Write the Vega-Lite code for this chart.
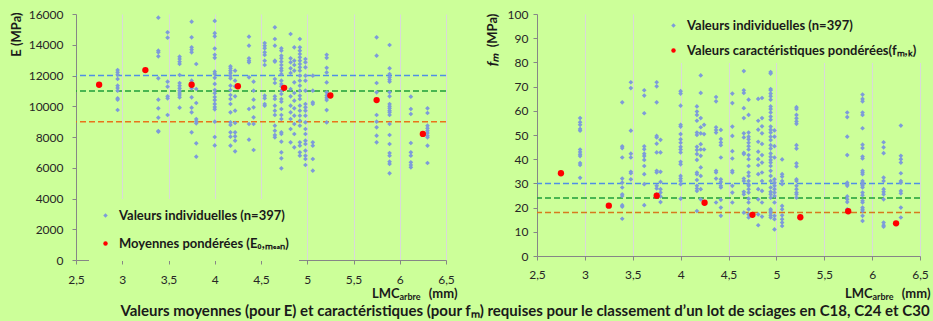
{
"$schema": "https://vega.github.io/schema/vega-lite/v6.json",
"background": "#CCFF99",
"padding": {"left": 10, "top": 8, "right": 2, "bottom": 2},
"config": {
 "view": {"stroke": null},
 "font": "Lato",
 "axis": {"labelFont": "Lato", "labelFontSize": 12, "labelColor": "#262626", "labelOverlap": false, "titleFont": "Lato", "titleFontSize": 13, "titleFontWeight": "bold", "titleColor": "#1a1a1a", "gridColor": "#D9D9D9", "gridWidth": 1, "domainColor": "#868686", "tickColor": "#868686", "tickSize": 4},
 "legend": {"labelFont": "Lato", "labelFontSize": 13, "labelFontWeight": "bold", "labelColor": "#1a1a1a", "labelLimit": 0, "symbolSize": 20, "symbolStrokeWidth": 0, "labelOffset": 7}
},
"resolve": {"scale": {"color": "independent", "shape": "independent", "stroke": "independent"}, "legend": {"color": "independent", "shape": "independent"}},
"datasets": {
 "Er": [{"c": "C30", "E": 12000}, {"c": "C24", "E": 11000}, {"c": "C18", "E": 9000}],
 "Em": [{"x": 2.75, "E": 11400}, {"x": 3.25, "E": 12350}, {"x": 3.75, "E": 11400}, {"x": 4.25, "E": 11300}, {"x": 4.75, "E": 11200}, {"x": 5.25, "E": 10700}, {"x": 5.75, "E": 10400}, {"x": 6.25, "E": 8200}],
 "Ei": [
{"x":2.95,"E":12358},{"x":2.95,"E":12205},{"x":2.95,"E":12053},{"x":2.95,"E":11772},{"x":2.95,"E":11337},{"x":2.95,"E":11187},{"x":2.95,"E":11012},{"x":2.95,"E":10517},{"x":2.95,"E":10426},{"x":2.95,"E":9756},
{"x":3.39,"E":15760},{"x":3.39,"E":13614},{"x":3.39,"E":13507},{"x":3.39,"E":13247},{"x":3.39,"E":11818},{"x":3.39,"E":10426},{"x":3.39,"E":9865},{"x":3.39,"E":9258},{"x":3.39,"E":8390},{"x":3.39,"E":8346},
{"x":3.49,"E":14809},{"x":3.49,"E":14458},{"x":3.49,"E":11597},{"x":3.49,"E":11272},{"x":3.49,"E":10647},{"x":3.49,"E":10517},{"x":3.49,"E":9431},
{"x":3.62,"E":13225},{"x":3.62,"E":13073},{"x":3.62,"E":12899},{"x":3.62,"E":12748},{"x":3.62,"E":12032},{"x":3.62,"E":11512},{"x":3.62,"E":11337},{"x":3.62,"E":11167},{"x":3.62,"E":11012},{"x":3.62,"E":10862},{"x":3.62,"E":10732},{"x":3.62,"E":10583},{"x":3.62,"E":9906},
{"x":3.75,"E":15500},{"x":3.75,"E":14484},{"x":3.75,"E":13834},{"x":3.75,"E":13678},{"x":3.75,"E":13507},{"x":3.75,"E":11662},{"x":3.75,"E":11512},{"x":3.75,"E":11167},{"x":3.75,"E":10583},{"x":3.75,"E":9906},{"x":3.75,"E":9606},{"x":3.75,"E":8306},
{"x":3.8,"E":12748},{"x":3.8,"E":11122},{"x":3.8,"E":10211},{"x":3.8,"E":9171},{"x":3.8,"E":9021},{"x":3.8,"E":8890},{"x":3.8,"E":7590},{"x":3.8,"E":6720},
{"x":4.0,"E":15550},{"x":4.0,"E":14750},{"x":4.0,"E":14550},{"x":4.0,"E":13750},{"x":4.0,"E":13350},{"x":4.0,"E":13150},{"x":4.0,"E":12250},{"x":4.0,"E":12100},{"x":4.0,"E":11850},{"x":4.0,"E":11450},{"x":4.0,"E":11050},{"x":4.0,"E":10850},{"x":4.0,"E":10600},{"x":4.0,"E":10400},{"x":4.0,"E":10150},{"x":4.0,"E":9950},{"x":4.0,"E":9800},{"x":4.0,"E":9000},{"x":4.0,"E":8000},{"x":4.0,"E":7450},
{"x":4.17,"E":12598},{"x":4.17,"E":12468},{"x":4.17,"E":12312},{"x":4.17,"E":12163},{"x":4.17,"E":11987},{"x":4.17,"E":11818},{"x":4.17,"E":11337},{"x":4.17,"E":11057},{"x":4.17,"E":10732},{"x":4.17,"E":10471},{"x":4.17,"E":10146},{"x":4.17,"E":9606},{"x":4.17,"E":8956},{"x":4.17,"E":8781},{"x":4.17,"E":8306},{"x":4.17,"E":8019},{"x":4.17,"E":7434},
{"x":4.22,"E":12312},{"x":4.22,"E":11662},{"x":4.22,"E":11297},{"x":4.22,"E":10647},{"x":4.22,"E":9711},{"x":4.22,"E":8910},{"x":4.22,"E":8306},{"x":4.22,"E":8046},{"x":4.22,"E":7760},{"x":4.22,"E":7070},
{"x":4.37,"E":14524},{"x":4.37,"E":13938},{"x":4.37,"E":13119},{"x":4.37,"E":12963},{"x":4.37,"E":12858},{"x":4.37,"E":11883},{"x":4.37,"E":9821},{"x":4.37,"E":8846},{"x":4.37,"E":7824},
{"x":4.42,"E":11597},{"x":4.42,"E":11012},{"x":4.42,"E":10426},{"x":4.42,"E":9931},{"x":4.42,"E":9281},{"x":4.42,"E":8846},{"x":4.42,"E":7154},
{"x":4.54,"E":14114},{"x":4.54,"E":13938},{"x":4.54,"E":13769},{"x":4.54,"E":13507},{"x":4.54,"E":13333},{"x":4.54,"E":12963},{"x":4.54,"E":12683},{"x":4.54,"E":10689},{"x":4.54,"E":10517},{"x":4.54,"E":10146},{"x":4.54,"E":10036},
{"x":4.65,"E":15135},{"x":4.65,"E":14374},{"x":4.65,"E":13938},{"x":4.65,"E":12963},{"x":4.65,"E":12898},{"x":4.65,"E":11772},{"x":4.65,"E":11512},{"x":4.65,"E":10647},{"x":4.65,"E":10471},{"x":4.65,"E":10036},{"x":4.65,"E":9711},{"x":4.65,"E":9431},{"x":4.65,"E":8737},{"x":4.65,"E":8412},{"x":4.65,"E":8130},{"x":4.65,"E":7980},
{"x":4.72,"E":13769},{"x":4.72,"E":13613},{"x":4.72,"E":13288},{"x":4.72,"E":13119},{"x":4.72,"E":12898},{"x":4.72,"E":12683},{"x":4.72,"E":12468},{"x":4.72,"E":12312},{"x":4.72,"E":12097},{"x":4.72,"E":11662},{"x":4.72,"E":11447},{"x":4.72,"E":11297},{"x":4.72,"E":11012},{"x":4.72,"E":10797},{"x":4.72,"E":10471},{"x":4.72,"E":10296},{"x":4.72,"E":9821},{"x":4.72,"E":9431},{"x":4.72,"E":9171},{"x":4.72,"E":8306},{"x":4.72,"E":8195},{"x":4.72,"E":7694},{"x":4.72,"E":7004},{"x":4.72,"E":6614},{"x":4.72,"E":5964},
{"x":4.82,"E":14699},{"x":4.82,"E":13119},{"x":4.82,"E":12858},{"x":4.82,"E":12468},{"x":4.82,"E":12163},{"x":4.82,"E":11122},{"x":4.82,"E":10647},{"x":4.82,"E":10036},{"x":4.82,"E":9606},{"x":4.82,"E":9171},{"x":4.82,"E":8520},{"x":4.82,"E":7654},
{"x":4.86,"E":13834},{"x":4.86,"E":12963},{"x":4.86,"E":12683},{"x":4.86,"E":12312},{"x":4.86,"E":11557},{"x":4.86,"E":10862},{"x":4.86,"E":10361},{"x":4.86,"E":9865},{"x":4.86,"E":9386},{"x":4.86,"E":8846},{"x":4.86,"E":8195},{"x":4.86,"E":7330},
{"x":4.92,"E":14374},{"x":4.92,"E":13834},{"x":4.92,"E":13613},{"x":4.92,"E":13398},{"x":4.92,"E":13183},{"x":4.92,"E":12963},{"x":4.92,"E":12748},{"x":4.92,"E":12533},{"x":4.92,"E":12312},{"x":4.92,"E":11987},{"x":4.92,"E":11662},{"x":4.92,"E":11337},{"x":4.92,"E":11012},{"x":4.92,"E":10689},{"x":4.92,"E":10471},{"x":4.92,"E":10036},{"x":4.92,"E":9711},{"x":4.92,"E":9386},{"x":4.92,"E":9061},{"x":4.92,"E":8737},{"x":4.92,"E":7654},{"x":4.92,"E":7434},{"x":4.92,"E":7004},{"x":4.92,"E":6784},
{"x":4.98,"E":13073},{"x":4.98,"E":12858},{"x":4.98,"E":12533},{"x":4.98,"E":11987},{"x":4.98,"E":11662},{"x":4.98,"E":11012},{"x":4.98,"E":10146},{"x":4.98,"E":9931},{"x":4.98,"E":9711},{"x":4.98,"E":9386},{"x":4.98,"E":8956},{"x":4.98,"E":8520},{"x":4.98,"E":8195},{"x":4.98,"E":7760},{"x":4.98,"E":7544},{"x":4.98,"E":7110},{"x":4.98,"E":6784},{"x":4.98,"E":6569},{"x":4.98,"E":6179},
{"x":5.06,"E":11987},{"x":5.06,"E":11012},{"x":5.06,"E":10257},{"x":5.06,"E":10146},{"x":5.06,"E":7654},{"x":5.06,"E":7434},{"x":5.06,"E":6569},{"x":5.06,"E":5808},
{"x":5.21,"E":13350},{"x":5.21,"E":13150},{"x":5.21,"E":12500},{"x":5.21,"E":12200},{"x":5.21,"E":11550},{"x":5.21,"E":10900},{"x":5.21,"E":10700},{"x":5.21,"E":10550},{"x":5.21,"E":10400},{"x":5.21,"E":9750},{"x":5.21,"E":8950},
{"x":5.75,"E":14484},{"x":5.75,"E":13288},{"x":5.75,"E":11512},{"x":5.75,"E":10907},{"x":5.75,"E":9431},{"x":5.75,"E":8996},{"x":5.75,"E":8631},{"x":5.75,"E":8085},{"x":5.75,"E":7654},
{"x":5.89,"E":13983},{"x":5.89,"E":12468},{"x":5.89,"E":12097},{"x":5.89,"E":11883},{"x":5.89,"E":11727},{"x":5.89,"E":11597},{"x":5.89,"E":10907},{"x":5.89,"E":10647},{"x":5.89,"E":10146},{"x":5.89,"E":9996},{"x":5.89,"E":9866},{"x":5.89,"E":9711},{"x":5.89,"E":9606},{"x":5.89,"E":9431},{"x":5.89,"E":8846},{"x":5.89,"E":8130},{"x":5.89,"E":7544},{"x":5.89,"E":6959},{"x":5.89,"E":6784},{"x":5.89,"E":6394},{"x":5.89,"E":6244},{"x":5.89,"E":5639},
{"x":6.12,"E":10621},{"x":6.12,"E":9821},{"x":6.12,"E":9496},{"x":6.12,"E":7610},{"x":6.12,"E":7004},{"x":6.12,"E":6784},{"x":6.12,"E":6354},{"x":6.12,"E":6179},{"x":6.12,"E":6029},
{"x":6.3,"E":9866},{"x":6.3,"E":9561},{"x":6.3,"E":8737},{"x":6.3,"E":8566},{"x":6.3,"E":8412},{"x":6.3,"E":8260},{"x":6.3,"E":8085},{"x":6.3,"E":7980},{"x":6.3,"E":7434},{"x":6.3,"E":6309}
 ],
 "Fr": [{"c": "C30", "f": 30}, {"c": "C24", "f": 24}, {"c": "C18", "f": 18}],
 "Fm": [{"x": 2.75, "f": 34.2}, {"x": 3.25, "f": 20.8}, {"x": 3.75, "f": 24.9}, {"x": 4.25, "f": 22}, {"x": 4.75, "f": 17}, {"x": 5.25, "f": 16}, {"x": 5.75, "f": 18.5}, {"x": 6.25, "f": 13.5}],
 "Fi": [
{"x":2.95,"f":57},{"x":2.95,"f":55.3},{"x":2.95,"f":54.2},{"x":2.95,"f":52.5},{"x":2.95,"f":51.8},{"x":2.95,"f":44},{"x":2.95,"f":43},{"x":2.95,"f":42},{"x":2.95,"f":41.3},{"x":2.95,"f":38.4},{"x":2.95,"f":37.6},{"x":2.95,"f":32.3},
{"x":3.39,"f":63.5},{"x":3.39,"f":45.3},{"x":3.39,"f":44.6},{"x":3.39,"f":40.7},{"x":3.39,"f":32},{"x":3.39,"f":30.3},{"x":3.39,"f":28.3},{"x":3.39,"f":25.5},{"x":3.39,"f":24.8},{"x":3.39,"f":21},{"x":3.39,"f":20.4},{"x":3.39,"f":15.4},
{"x":3.48,"f":71.8},{"x":3.48,"f":69.4},{"x":3.48,"f":51.8},{"x":3.48,"f":42.3},{"x":3.48,"f":40.7},{"x":3.48,"f":34.8},{"x":3.48,"f":34.2},{"x":3.48,"f":31.7},
{"x":3.62,"f":68.5},{"x":3.62,"f":66.3},{"x":3.62,"f":59},{"x":3.62,"f":45.3},{"x":3.62,"f":44.1},{"x":3.62,"f":42.3},{"x":3.62,"f":41.3},{"x":3.62,"f":39.7},{"x":3.62,"f":37.2},{"x":3.62,"f":33.8},{"x":3.62,"f":29.7},{"x":3.62,"f":21},
{"x":3.75,"f":71.8},{"x":3.75,"f":70.1},{"x":3.75,"f":63.5},{"x":3.75,"f":49.6},{"x":3.75,"f":49},{"x":3.75,"f":46.4},{"x":3.75,"f":42.8},{"x":3.75,"f":35.2},{"x":3.75,"f":34.5},{"x":3.75,"f":29},{"x":3.75,"f":27.9},{"x":3.75,"f":25.5},
{"x":3.79,"f":48},{"x":3.79,"f":42.8},{"x":3.79,"f":34.8},{"x":3.79,"f":30.6},{"x":3.79,"f":27.6},{"x":3.79,"f":26.2},{"x":3.79,"f":24.6},{"x":3.79,"f":22.3},
{"x":4.0,"f":68.1},{"x":4.0,"f":67.1},{"x":4.0,"f":62.1},{"x":4.0,"f":54.2},{"x":4.0,"f":53.5},{"x":4.0,"f":50.4},{"x":4.0,"f":48.2},{"x":4.0,"f":46.8},{"x":4.0,"f":45.1},{"x":4.0,"f":44},{"x":4.0,"f":42.8},{"x":4.0,"f":38.9},{"x":4.0,"f":37.9},{"x":4.0,"f":33.1},{"x":4.0,"f":32},{"x":4.0,"f":31},{"x":4.0,"f":29.7},{"x":4.0,"f":23.7},
{"x":4.17,"f":61.8},{"x":4.17,"f":59.7},{"x":4.17,"f":58.3},{"x":4.17,"f":55.9},{"x":4.17,"f":51},{"x":4.17,"f":50},{"x":4.17,"f":45.1},{"x":4.17,"f":43.8},{"x":4.17,"f":42.1},{"x":4.17,"f":39.7},{"x":4.17,"f":34.5},{"x":4.17,"f":33.8},{"x":4.17,"f":31.4},{"x":4.17,"f":29},{"x":4.17,"f":27.9},{"x":4.17,"f":26.9},{"x":4.17,"f":18.6},
{"x":4.21,"f":74.6},{"x":4.21,"f":67.4},{"x":4.21,"f":57},{"x":4.21,"f":53.2},{"x":4.21,"f":50.7},{"x":4.21,"f":46.2},{"x":4.21,"f":44},{"x":4.21,"f":41.4},{"x":4.21,"f":36.6},{"x":4.21,"f":33.1},{"x":4.21,"f":27.6},{"x":4.21,"f":23.4},
{"x":4.245,"f":54.2},{"x":4.245,"f":50.4},{"x":4.245,"f":44},{"x":4.245,"f":22.3},
{"x":4.37,"f":65.7},{"x":4.37,"f":63.9},{"x":4.37,"f":53.2},{"x":4.37,"f":52.1},{"x":4.37,"f":51},{"x":4.37,"f":35.2},{"x":4.37,"f":34.5},{"x":4.37,"f":32},{"x":4.37,"f":22.1},
{"x":4.42,"f":52.1},{"x":4.42,"f":48.3},{"x":4.42,"f":46.9},{"x":4.42,"f":45.8},{"x":4.42,"f":40.7},{"x":4.42,"f":31.7},{"x":4.42,"f":30.6},{"x":4.42,"f":29},{"x":4.42,"f":28.3},{"x":4.42,"f":23.2},{"x":4.42,"f":20},{"x":4.42,"f":16.6},
{"x":4.54,"f":67.1},{"x":4.54,"f":63.2},{"x":4.54,"f":53.5},{"x":4.54,"f":49.6},{"x":4.54,"f":43.3},{"x":4.54,"f":40.3},{"x":4.54,"f":35.2},{"x":4.54,"f":34.5},{"x":4.54,"f":29},{"x":4.54,"f":26.2},{"x":4.54,"f":22.1},
{"x":4.66,"f":76.4},{"x":4.66,"f":68.5},{"x":4.66,"f":67.4},{"x":4.66,"f":61.1},{"x":4.66,"f":57},{"x":4.66,"f":50.7},{"x":4.66,"f":49},{"x":4.66,"f":42.6},{"x":4.66,"f":42.1},{"x":4.66,"f":32},{"x":4.66,"f":31},{"x":4.66,"f":26.5},{"x":4.66,"f":25.5},{"x":4.66,"f":17.9},
{"x":4.71,"f":64.6},{"x":4.71,"f":58.3},{"x":4.71,"f":51},{"x":4.71,"f":49.3},{"x":4.71,"f":48.2},{"x":4.71,"f":46.8},{"x":4.71,"f":45.4},{"x":4.71,"f":44},{"x":4.71,"f":41.7},{"x":4.71,"f":40},{"x":4.71,"f":37.2},{"x":4.71,"f":34.5},{"x":4.71,"f":33.1},{"x":4.71,"f":31},{"x":4.71,"f":29.7},{"x":4.71,"f":29},{"x":4.71,"f":27.6},{"x":4.71,"f":26.2},{"x":4.71,"f":23.7},{"x":4.71,"f":22.1},{"x":4.71,"f":19.3},{"x":4.71,"f":17.2},{"x":4.71,"f":15.9},
{"x":4.81,"f":64.9},{"x":4.81,"f":55.9},{"x":4.81,"f":52.2},{"x":4.81,"f":47.2},{"x":4.81,"f":43.1},{"x":4.81,"f":40},{"x":4.81,"f":37.5},{"x":4.81,"f":33.8},{"x":4.81,"f":27.6},{"x":4.81,"f":23.4},{"x":4.81,"f":17.2},{"x":4.81,"f":12.7},
{"x":4.85,"f":65.3},{"x":4.85,"f":57},{"x":4.85,"f":53.6},{"x":4.85,"f":50.7},{"x":4.85,"f":46.3},{"x":4.85,"f":41.7},{"x":4.85,"f":38.6},{"x":4.85,"f":34.5},{"x":4.85,"f":31},{"x":4.85,"f":26.9},{"x":4.85,"f":22.1},{"x":4.85,"f":16.3},
{"x":4.94,"f":76},{"x":4.94,"f":75.4},{"x":4.94,"f":69},{"x":4.94,"f":68.5},{"x":4.94,"f":67.1},{"x":4.94,"f":66},{"x":4.94,"f":64.6},{"x":4.94,"f":61.8},{"x":4.94,"f":60.7},{"x":4.94,"f":59.3},{"x":4.94,"f":57.6},{"x":4.94,"f":56.3},{"x":4.94,"f":53.5},{"x":4.94,"f":52.2},{"x":4.94,"f":51},{"x":4.94,"f":49.3},{"x":4.94,"f":47.9},{"x":4.94,"f":45.8},{"x":4.94,"f":44.4},{"x":4.94,"f":42.4},{"x":4.94,"f":41},{"x":4.94,"f":39.7},{"x":4.94,"f":38.6},{"x":4.94,"f":37.2},{"x":4.94,"f":35.2},{"x":4.94,"f":33.1},{"x":4.94,"f":31},{"x":4.94,"f":28.3},{"x":4.94,"f":26.5},{"x":4.94,"f":25.5},{"x":4.94,"f":24.1},{"x":4.94,"f":19.3},{"x":4.94,"f":18.6},{"x":4.94,"f":17.9},{"x":4.94,"f":16.8},{"x":4.94,"f":15.9},
{"x":4.98,"f":51.9},{"x":4.98,"f":49.3},{"x":4.98,"f":45.4},{"x":4.98,"f":40.7},{"x":4.98,"f":31.7},{"x":4.98,"f":30.3},{"x":4.98,"f":29},{"x":4.98,"f":27.6},{"x":4.98,"f":26.2},{"x":4.98,"f":24.8},{"x":4.98,"f":22.1},{"x":4.98,"f":16.6},{"x":4.98,"f":15.2},{"x":4.98,"f":11},
{"x":5.06,"f":39.9},{"x":5.06,"f":33.8},{"x":5.06,"f":32.8},{"x":5.06,"f":31},{"x":5.06,"f":29.7},{"x":5.06,"f":20.7},{"x":5.06,"f":19.3},{"x":5.06,"f":16.8},{"x":5.06,"f":15.2},{"x":5.06,"f":13.8},{"x":5.06,"f":12.4},
{"x":5.21,"f":61.5},{"x":5.21,"f":60.7},{"x":5.21,"f":58.3},{"x":5.21,"f":56.9},{"x":5.21,"f":55.6},{"x":5.21,"f":54.6},{"x":5.21,"f":45.8},{"x":5.21,"f":44.4},{"x":5.21,"f":38.3},{"x":5.21,"f":37},{"x":5.21,"f":31.7},{"x":5.21,"f":31},{"x":5.21,"f":29},{"x":5.21,"f":27.6},{"x":5.21,"f":26.2},{"x":5.21,"f":25.5},{"x":5.21,"f":24.1},
{"x":5.74,"f":59.3},{"x":5.74,"f":57.4},{"x":5.74,"f":49.3},{"x":5.74,"f":41.7},{"x":5.74,"f":30.3},{"x":5.74,"f":29.7},{"x":5.74,"f":29},{"x":5.74,"f":24.6},{"x":5.74,"f":23.4},{"x":5.74,"f":22.3},{"x":5.74,"f":19.3},
{"x":5.9,"f":66.7},{"x":5.9,"f":64.9},{"x":5.9,"f":63.9},{"x":5.9,"f":59.3},{"x":5.9,"f":58.3},{"x":5.9,"f":52.8},{"x":5.9,"f":46},{"x":5.9,"f":44.6},{"x":5.9,"f":41.1},{"x":5.9,"f":40.3},{"x":5.9,"f":35.2},{"x":5.9,"f":34.5},{"x":5.9,"f":33.8},{"x":5.9,"f":31},{"x":5.9,"f":30.3},{"x":5.9,"f":29.7},{"x":5.9,"f":29},{"x":5.9,"f":28.3},{"x":5.9,"f":26.2},{"x":5.9,"f":25.1},{"x":5.9,"f":22.8},{"x":5.9,"f":22.1},{"x":5.9,"f":20},{"x":5.9,"f":19.3},{"x":5.9,"f":18.6},{"x":5.9,"f":16.6},{"x":5.9,"f":14.5},
{"x":6.12,"f":47},{"x":6.12,"f":44.9},{"x":6.12,"f":42.5},{"x":6.12,"f":32.4},{"x":6.12,"f":31},{"x":6.12,"f":27.6},{"x":6.12,"f":26.5},{"x":6.12,"f":25.5},{"x":6.12,"f":23.4},{"x":6.12,"f":13.8},{"x":6.12,"f":12.7},{"x":6.12,"f":12.1},
{"x":6.3,"f":53.9},{"x":6.3,"f":41.4},{"x":6.3,"f":40},{"x":6.3,"f":38.6},{"x":6.3,"f":34.2},{"x":6.3,"f":31},{"x":6.3,"f":30.3},{"x":6.3,"f":26.9},{"x":6.3,"f":25.9},{"x":6.3,"f":20},{"x":6.3,"f":15.9}
 ]
},
"title": {"text": "Valeurs moyennes (pour E) et caractéristiques (pour fₘ) requises pour le classement d’un lot de sciages en C18, C24 et C30", "orient": "bottom", "anchor": "middle", "font": "Lato", "fontSize": 15, "fontWeight": "bold", "color": "#1a1a1a", "offset": 3, "dx": 55},
"spacing": 28,
"hconcat": [
 {
  "width": 370, "height": 246,
  "resolve": {"axis": {"x": "independent", "y": "independent"}},
  "layer": [
   {"data": {"name": "Er"}, "mark": {"type": "rule", "strokeDash": [6, 3], "strokeWidth": 1.5},
    "encoding": {"y": {"field": "E", "type": "quantitative", "axis": null},
     "stroke": {"field": "c", "type": "nominal", "scale": {"domain": ["C18", "C24", "C30"], "range": ["#E8731A", "#1E9E3A", "#4F8FE6"]}, "legend": null}}},
   {"data": {"name": "Ei"}, "mark": {"type": "point", "filled": true, "opacity": 1, "size": 22, "strokeWidth": 0},
    "encoding": {
     "x": {"field": "x", "type": "quantitative", "scale": {"domain": [2.5, 6.5], "nice": false, "zero": false},
      "axis": {"values": [2.5, 3, 3.5, 4, 4.5, 5, 5.5, 6, 6.5], "labelExpr": "replace(format(datum.value, '~g'), '.', ',')", "labelPadding": 10, "labelFlush": false, "title": "LMC\u2003\u2003\u2003(mm)", "titleAlign": "right", "titleAnchor": "end", "titleX": 381, "titleY": 37, "titleBaseline": "alphabetic"}},
     "y": {"field": "E", "type": "quantitative", "scale": {"domain": [0, 16000], "nice": false},
      "axis": {"values": [0, 2000, 4000, 6000, 8000, 10000, 12000, 14000, 16000], "format": "d", "labelPadding": 9, "title": "E (MPa)", "titleAngle": -90, "titleX": -60, "titleY": 20, "titleAlign": "center", "titleBaseline": "middle"}},
     "color": {"datum": "i", "type": "nominal", "scale": {"domain": ["i", "m"], "range": ["#7D9BDA", "#FF0000"]},
      "legend": {"orient": "none", "legendX": 13, "legendY": 185, "title": null, "padding": 10, "rowPadding": 14, "fillColor": "#CCFF99", "labelExpr": "datum.label == 'i' ? 'Valeurs individuelles (n=397)' : 'Moyennes pondérées (E₀,ₘₑₐₙ)'"}},
     "shape": {"datum": "i", "type": "nominal", "scale": {"domain": ["i", "m"], "range": ["diamond", "circle"]}}
    }},
   {"data": {"name": "Em"}, "mark": {"type": "point", "filled": true, "opacity": 1, "size": 40, "strokeWidth": 0},
    "encoding": {
     "x": {"field": "x", "type": "quantitative",
      "axis": {"orient": "bottom", "labels": false, "ticks": false, "domain": false, "grid": false, "title": "arbre", "titleFontSize": 9, "titleAlign": "left", "titleAnchor": "start", "titleX": 323, "titleY": 39, "titleBaseline": "alphabetic"}},
     "y": {"field": "E", "type": "quantitative", "axis": null},
     "color": {"datum": "m", "type": "nominal"},
     "shape": {"datum": "m", "type": "nominal"}
    }}
  ]
 },
 {
  "width": 383, "height": 242,
  "resolve": {"axis": {"x": "independent", "y": "independent"}},
  "layer": [
   {"data": {"name": "Fr"}, "mark": {"type": "rule", "strokeDash": [6, 3], "strokeWidth": 1.5},
    "encoding": {"y": {"field": "f", "type": "quantitative", "axis": null},
     "stroke": {"field": "c", "type": "nominal", "scale": {"domain": ["C18", "C24", "C30"], "range": ["#D67A1E", "#1E9E3A", "#4F8FE6"]}, "legend": null}}},
   {"data": {"name": "Fi"}, "mark": {"type": "point", "filled": true, "opacity": 1, "size": 22, "strokeWidth": 0},
    "encoding": {
     "x": {"field": "x", "type": "quantitative", "scale": {"domain": [2.5, 6.5], "nice": false, "zero": false},
      "axis": {"values": [2.5, 3, 3.5, 4, 4.5, 5, 5.5, 6, 6.5], "labelExpr": "replace(format(datum.value, '~g'), '.', ',')", "labelPadding": 9, "labelFlush": false, "title": "LMC\u2003\u2003\u2003(mm)", "titleAlign": "right", "titleAnchor": "end", "titleX": 393, "titleY": 41, "titleBaseline": "alphabetic"}},
     "y": {"field": "f", "type": "quantitative", "scale": {"domain": [0, 100], "nice": false},
      "axis": {"values": [0, 10, 20, 30, 40, 50, 60, 70, 80, 90, 100], "labelPadding": 5, "title": "(MPa)", "titleAngle": -90, "titleX": -45, "titleY": 16, "titleAlign": "center", "titleBaseline": "middle"}},
     "color": {"datum": "i", "type": "nominal", "scale": {"domain": ["i", "m"], "range": ["#7D9BDA", "#FF0000"]},
      "legend": {"orient": "none", "legendX": 125, "legendY": 0, "title": null, "padding": 5, "rowPadding": 11, "fillColor": "#CCFF99", "labelExpr": "datum.label == 'i' ? 'Valeurs individuelles (n=397)' : 'Valeurs caractéristiques pondérées(fₘ,ₖ)'"}},
     "shape": {"datum": "i", "type": "nominal", "scale": {"domain": ["i", "m"], "range": ["diamond", "circle"]}}
    }},
   {"data": {"name": "Fm"}, "mark": {"type": "point", "filled": true, "opacity": 1, "size": 40, "strokeWidth": 0},
    "encoding": {
     "x": {"field": "x", "type": "quantitative",
      "axis": {"orient": "bottom", "labels": false, "ticks": false, "domain": false, "grid": false, "title": "arbre", "titleFontSize": 9, "titleAlign": "left", "titleAnchor": "start", "titleX": 335, "titleY": 43, "titleBaseline": "alphabetic"}},
     "y": {"field": "f", "type": "quantitative",
      "axis": {"orient": "left", "labels": false, "ticks": false, "domain": false, "grid": false, "title": "fₘ", "titleFontStyle": "italic", "titleFontSize": 14, "titleAngle": -90, "titleX": -45, "titleY": 45, "titleAlign": "center", "titleBaseline": "middle"}},
     "color": {"datum": "m", "type": "nominal"},
     "shape": {"datum": "m", "type": "nominal"}
    }}
  ]
 }
]
}
